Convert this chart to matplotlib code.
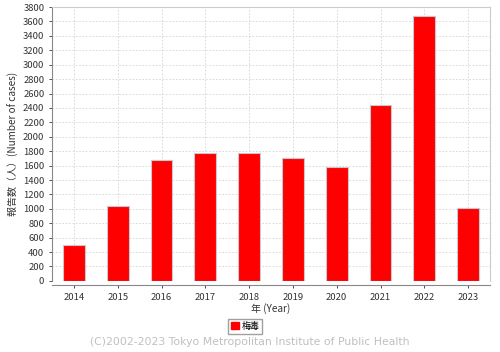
import matplotlib
matplotlib.use('Agg')
import matplotlib.pyplot as plt
from matplotlib.patches import Patch

plt.rcParams['font.family'] = ['Noto Sans CJK JP', 'DejaVu Sans']

years = ['2014', '2015', '2016', '2017', '2018', '2019', '2020', '2021', '2022', '2023']
cases = [497, 1040, 1671, 1778, 1768, 1708, 1574, 2447, 3681, 1017]
series_name = '梅毒'

fig = plt.figure(figsize=(5.0, 3.52), dpi=100)
ax = fig.add_axes([0.104, 0.202, 0.876, 0.778])

x = range(len(years))
ax.bar(x, cases, width=0.5, color='#ff0000', edgecolor='#c8c8d0', linewidth=0.8, zorder=3)

ax.set_xlim(-0.5, len(years) - 0.5)
ax.set_ylim(0, 3800)
ax.set_yticks(range(0, 3801, 200))
ax.set_xticks(list(x))
ax.set_xticklabels(years)
ax.tick_params(labelsize=6.8, colors='#333333', length=2, width=0.6)

ax.grid(True, color='#d4d4d4', linestyle=(0, (2, 2)), linewidth=0.6, zorder=0)
ax.axhline(0, color='#7777cc', linestyle=(0, (2, 2)), linewidth=0.6, zorder=4)

for side in ['top', 'right']:
    ax.spines[side].set_color('#cccccc')
    ax.spines[side].set_linewidth(0.8)
for side in ['left', 'bottom']:
    ax.spines[side].set_color('#888888')
    ax.spines[side].set_linewidth(0.8)
ax.spines['bottom'].set_position(('outward', 3))

ax.set_xlabel('年 (Year)', fontsize=7.2, color='#333333', labelpad=1)
ax.set_ylabel('報告数（人）(Number of cases)', fontsize=7.2, color='#333333', labelpad=3)

fig.legend(handles=[Patch(facecolor='#ff0000', edgecolor='#ff0000', label=series_name)],
           loc='center', bbox_to_anchor=(0.49, 0.073), fontsize=6.5, frameon=True,
           fancybox=False, edgecolor='#888888', handlelength=0.9, handleheight=0.9,
           handletextpad=0.3, borderpad=0.3, borderaxespad=0)

fig.text(0.5, 0.027, '(C)2002-2023 Tokyo Metropolitan Institute of Public Health',
         ha='center', va='center', fontsize=7.8, color='#c0c0c0', family='DejaVu Sans')

fig.savefig('out.png', dpi=100)
